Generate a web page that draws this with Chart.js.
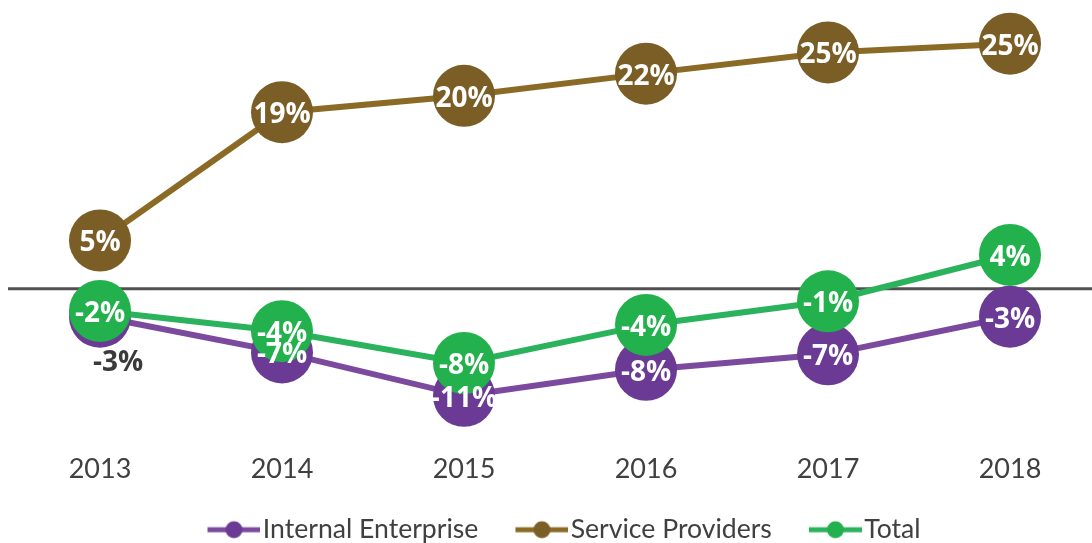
<!DOCTYPE html>
<html><head><meta charset="utf-8">
<script src="https://cdn.jsdelivr.net/npm/chart.js@4"></script>
<style>html,body{margin:0;padding:0;background:#fff;overflow:hidden}#wrap{width:1092px;height:543px}</style>
</head><body><div id="wrap"><canvas id="c" width="1092" height="543"></canvas></div>
<script>
const years = ['2013', '2014', '2015', '2016', '2017', '2018'];
const internalEnterprise = [-2.9, -6.6, -11.1, -8.4, -6.8, -2.9];
const serviceProviders = [5.0, 18.3, 20.0, 22.3, 24.5, 25.4];
const total = [-2.3, -4.4, -7.7, -3.75, -1.3, 3.5];
const internalLabels = ['-3%', '-7%', '-11%', '-8%', '-7%', '-3%'];
const serviceLabels = ['5%', '19%', '20%', '22%', '25%', '25%'];
const totalLabels = ['-2%', '-4%', '-8%', '-4%', '-1%', '4%'];
const seriesNames = ['Internal Enterprise', 'Service Providers', 'Total'];

const PURPLE_LINE = '#7b4a9e', PURPLE_PT = '#6a3a94';
const GOLD_LINE = '#8a6a24', GOLD_PT = '#7a5e26';
const GREEN_LINE = '#2bb25c', GREEN_PT = '#22b14c';
const TEXT = '#404040';
const FONT = 'Lato';

function legendMarker(lineColor, ptColor) {
  const c = document.createElement('canvas');
  c.width = 82; c.height = 20;
  const g = c.getContext('2d');
  g.strokeStyle = lineColor; g.lineWidth = 5;
  g.beginPath(); g.moveTo(29, 10); g.lineTo(82, 10); g.stroke();
  g.fillStyle = ptColor;
  g.beginPath(); g.arc(55.5, 10, 8.5, 0, Math.PI * 2); g.fill();
  return c;
}
const markers = [legendMarker(PURPLE_LINE, PURPLE_PT), legendMarker(GOLD_LINE, GOLD_PT), legendMarker(GREEN_LINE, GREEN_PT)];

const zeroLine = {
  id: 'zeroLine',
  beforeDatasetsDraw(chart) {
    const y = chart.scales.y.getPixelForValue(0);
    const ctx = chart.ctx;
    ctx.save();
    ctx.strokeStyle = '#505050'; ctx.lineWidth = 3;
    ctx.beginPath(); ctx.moveTo(8, y); ctx.lineTo(chart.width, y); ctx.stroke();
    ctx.restore();
  }
};

const pointLabels = {
  id: 'pointLabels',
  afterDatasetsDraw(chart) {
    const ctx = chart.ctx;
    const labelSets = [internalLabels, serviceLabels, totalLabels];
    ctx.save();
    ctx.textAlign = 'center';
    ctx.textBaseline = 'middle';
    labelSets.forEach((labels, di) => {
      const meta = chart.getDatasetMeta(di);
      meta.data.forEach((pt, i) => {
        const outside = (di === 0 && i === 0);
        ctx.font = 'bold 28px "Open Sans"';
        if (outside) {
          ctx.fillStyle = '#3a3a3a';
          ctx.fillText(labels[i], pt.x + 18, pt.y + 46);
        } else {
          ctx.fillStyle = '#ffffff';
          ctx.fillText(labels[i], pt.x, pt.y + 3);
        }
      });
    });
    ctx.restore();
  }
};

function ds(label, data, lineColor, ptColor, order) {
  return {
    label, data, order,
    borderColor: lineColor, backgroundColor: ptColor,
    pointBackgroundColor: ptColor, pointBorderWidth: 0, pointBorderColor: ptColor,
    pointRadius: 31, pointHoverRadius: 31, borderWidth: 6, tension: 0, clip: false
  };
}

new Chart(document.getElementById('c'), {
  type: 'line',
  data: {
    labels: years,
    datasets: [
      ds(seriesNames[0], internalEnterprise, PURPLE_LINE, PURPLE_PT, 2),
      ds(seriesNames[1], serviceProviders, GOLD_LINE, GOLD_PT, 1),
      ds(seriesNames[2], total, GREEN_LINE, GREEN_PT, 0)
    ]
  },
  options: {
    responsive: false,
    devicePixelRatio: 1,
    animation: false,
    layout: { padding: { left: 100, right: 82, top: 0, bottom: -10 } },
    scales: {
      x: {
        offset: false,
        grid: { display: false, drawTicks: false },
        border: { display: false },
        ticks: { color: TEXT, font: { family: FONT, size: 27 }, padding: 22, maxRotation: 0, autoSkip: false },
        afterFit(s) { s.height = 66; }
      },
      y: { display: false, min: -14.79, max: 26.72 }
    },
    plugins: {
      tooltip: { enabled: false },
      legend: {
        position: 'bottom',
        labels: {
          usePointStyle: true,
          pointStyleWidth: 60,
          padding: 19,
          color: TEXT,
          font: { family: FONT, size: 26.6 },
          generateLabels(chart) {
            return chart.data.datasets.map((d, i) => ({
              text: d.label, datasetIndex: i, pointStyle: markers[i],
              fillStyle: d.backgroundColor, strokeStyle: d.borderColor, lineWidth: 0,
              fontColor: TEXT, hidden: false
            }));
          }
        }
      }
    }
  },
  plugins: [zeroLine, pointLabels]
});
</script>
</body></html>
